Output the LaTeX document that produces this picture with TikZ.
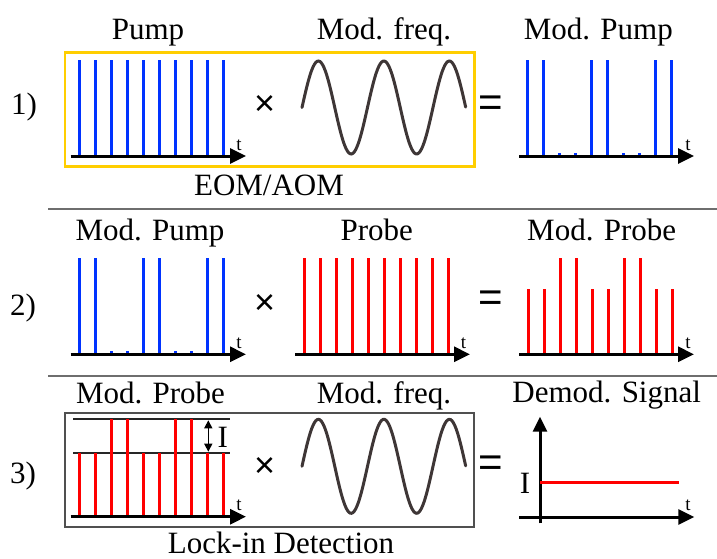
\documentclass[tikz,border=0pt]{standalone}
\usepackage{fontspec}
\setmainfont{Liberation Serif}
\newfontfamily\symfont{Liberation Sans}
\usetikzlibrary{arrows.meta}
\definecolor{pblue}{RGB}{0,51,255}
\definecolor{pred}{RGB}{255,0,0}
\definecolor{boxyellow}{RGB}{255,206,0}
\definecolor{sinecol}{RGB}{62,54,54}
\definecolor{sepgray}{RGB}{110,110,110}
\definecolor{boxgray}{RGB}{80,80,80}
\begin{document}
\begin{tikzpicture}[x=1pt,y=-1pt,
  lbl/.style={font=\fontsize{31}{36}\selectfont, anchor=base, inner sep=0pt},
  tlbl/.style={font=\fontsize{19}{21}\selectfont, anchor=base, inner sep=0pt},
  oplbl/.style={font=\symfont\fontsize{36}{40}\selectfont, inner sep=0pt},
  eqlbl/.style={font=\symfont\fontsize{42}{46}\selectfont, inner sep=0pt},
  axisline/.style={line width=3pt, -{Triangle[length=16pt,width=15pt]}},
  bpulse/.style={pblue, line width=3pt},
  rpulse/.style={pred, line width=3pt},
  sinewave/.style={sinecol, line width=3pt, line cap=round},
  sepline/.style={sepgray, line width=2pt},
  hline/.style={black!85, line width=2pt}
]
\useasboundingbox (0,0) rectangle (717,559);

% ---------- separators
\coordinate (s1a) at (48,209.3); \coordinate (s1b) at (717,209.3);
\coordinate (s2a) at (48,376); \coordinate (s2b) at (717,376);
\draw[sepline] (s1a) -- (s1b);
\draw[sepline] (s2a) -- (s2b);

% ---------- Row 1
\node[lbl] (r1) at (24,114) {1)};
\draw[boxyellow, line width=2.5pt] (65,52.3) rectangle (474.3,166.7);
\node[lbl] (pump) at (148,40) {Pump};
\node[lbl] (modfreq1) at (384,40) {Mod. freq.};
\node[lbl] (modpump1) at (598.3,40) {Mod. Pump};
\node[lbl] (eom) at (269,195) {EOM/AOM};

\foreach \i in {0,...,9}
  \draw[bpulse] ({79+16*\i},156) -- ({79+16*\i},60);
\coordinate (a1s) at (70.7,156); \coordinate (a1e) at (246,156);
\draw[axisline] (a1s) -- (a1e);
\node[tlbl] (t1) at (239,150.7) {t};

\node[oplbl] (x1) at (264.7,105) {×};
\draw[sinewave] plot[domain=0:2.5, samples=120, smooth] ({302+65.5*\x},{107.5-46.5*sin(360*\x)});
\node[eqlbl] (eq1) at (490.8,106.5) {=};

\foreach \i in {0,1,4,5,8,9}
  \draw[bpulse] ({527.7+16*\i},156) -- ({527.7+16*\i},60);
\foreach \i in {2,3,6,7}
  \draw[bpulse] ({527.7+16*\i},156) -- ({527.7+16*\i},152.5);
\coordinate (a2s) at (519,156); \coordinate (a2e) at (694,156);
\draw[axisline] (a2s) -- (a2e);
\node[tlbl] (t2) at (688,150.2) {t};

% ---------- Row 2
\node[lbl] (r2) at (23,315) {2)};
\node[lbl] (modpump2) at (150,240) {Mod. Pump};
\node[lbl] (probe) at (376.7,240) {Probe};
\node[lbl] (modprobe2) at (601.7,240) {Mod. Probe};

\foreach \i in {0,1,4,5,8,9}
  \draw[bpulse] ({79+16*\i},354.3) -- ({79+16*\i},257.7);
\foreach \i in {2,3,6,7}
  \draw[bpulse] ({79+16*\i},354.3) -- ({79+16*\i},350.8);
\coordinate (a3s) at (70.7,354.3); \coordinate (a3e) at (246,354.3);
\draw[axisline] (a3s) -- (a3e);
\node[tlbl] (t3) at (239,348.3) {t};

\node[oplbl] (x2) at (264.7,304) {×};

\foreach \i in {0,...,9}
  \draw[rpulse] ({304+16*\i},354.3) -- ({304+16*\i},257.7);
\coordinate (a4s) at (295,354.3); \coordinate (a4e) at (470,354.3);
\draw[axisline] (a4s) -- (a4e);
\node[tlbl] (t4) at (463.5,348.3) {t};

\node[eqlbl] (eq2) at (490.8,301.5) {=};

\foreach \i in {2,3,6,7}
  \draw[rpulse] ({528.2+16*\i},354.3) -- ({528.2+16*\i},257.7);
\foreach \i in {0,1,4,5,8,9}
  \draw[rpulse] ({528.2+16*\i},354.3) -- ({528.2+16*\i},289.3);
\coordinate (a5s) at (519,354.3); \coordinate (a5e) at (694,354.3);
\draw[axisline] (a5s) -- (a5e);
\node[tlbl] (t5) at (688,348.3) {t};

% ---------- Row 3
\node[lbl] (r3) at (23,483) {3)};
\draw[boxgray, line width=2pt] (65,412.7) rectangle (474.3,527.3);
\node[lbl] (modprobe3) at (150.5,403) {Mod. Probe};
\node[lbl] (modfreq3) at (384,403) {Mod. freq.};
\node[lbl] (demod) at (606.7,402) {Demod. Signal};
\node[lbl] (lockin) at (281,553) {Lock-in Detection};

\coordinate (h1a) at (73,419.3); \coordinate (h1b) at (230,419.3);
\coordinate (h2a) at (73,452.7); \coordinate (h2b) at (230,452.7);
\draw[hline] (h1a) -- (h1b);
\draw[hline] (h2a) -- (h2b);
\foreach \i in {2,3,6,7}
  \draw[rpulse] ({79+16*\i},516.7) -- ({79+16*\i},419.3);
\foreach \i in {0,1,4,5,8,9}
  \draw[rpulse] ({79+16*\i},516.7) -- ({79+16*\i},452.7);
\coordinate (da) at (208.3,420.3); \coordinate (db) at (208.3,451.7);
\draw[line width=1.5pt, {Triangle[length=8pt,width=8pt]}-{Triangle[length=8pt,width=8pt]}] (da) -- (db);
\node[lbl] (ilbl) at (222.7,447.5) {I};
\coordinate (a6s) at (70.7,516.7); \coordinate (a6e) at (246,516.7);
\draw[axisline] (a6s) -- (a6e);
\node[tlbl] (t6) at (239,510.7) {t};

\node[oplbl] (x3) at (264.7,467) {×};
\draw[sinewave] plot[domain=0:2.5, samples=120, smooth] ({302+65.5*\x},{466.3-47*sin(360*\x)});
\node[eqlbl] (eq3) at (490.8,466.5) {=};

\coordinate (vys) at (540,523.3); \coordinate (vye) at (540,416.7);
\draw[line width=3pt, -{Triangle[length=15pt,width=14pt]}] (vys) -- (vye);
\coordinate (a7s) at (519.3,517); \coordinate (a7e) at (694.3,517);
\draw[axisline] (a7s) -- (a7e);
\node[tlbl] (t7) at (688,510.7) {t};
\coordinate (sa) at (540,482.7); \coordinate (sb) at (679,482.7);
\draw[pred, line width=3pt] (sa) -- (sb);
\node[lbl] (ilbl2) at (525,493) {I};
\end{tikzpicture}
\end{document}
